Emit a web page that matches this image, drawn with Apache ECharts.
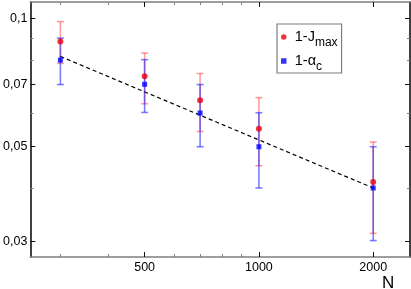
<!DOCTYPE html>
<html>
<head>
<meta charset="utf-8">
<script src="https://cdn.jsdelivr.net/npm/echarts@6/dist/echarts.min.js"></script>
<style>html,body{margin:0;padding:0;background:#fff}#c{width:411px;height:289px}</style>
</head>
<body>
<div id="c"></div>
<script>
// ---- data ----
const nValues   = [300, 500, 700, 1000, 2000];
const jMax      = [0.0883, 0.0732, 0.0643, 0.0551, 0.0413];
const jMaxLow   = [0.0785, 0.0631, 0.0543, 0.0451, 0.0313];
const jMaxHigh  = [0.0984, 0.0830, 0.0743, 0.0652, 0.0513];
const alphaC    = [0.0799, 0.0701, 0.0600, 0.0500, 0.0400];
const alphaLow  = [0.0700, 0.0602, 0.0500, 0.0400, 0.0301];
const alphaHigh = [0.0900, 0.0801, 0.0700, 0.0601, 0.0500];
const fitN      = [300, 2000];
const fitY      = [0.0815, 0.0400];

const xMajorTicks  = [500, 1000, 2000];
const xMajorLabels = ['500', '1000', '2000'];
const xMinorTicks  = [300, 400, 600, 700, 800, 900];
const yMajorTicks  = [0.03, 0.05, 0.07, 0.1];
const yMajorLabels = ['0,03', '0,05', '0,07', '0,1'];
const yMinorTicks  = [0.04, 0.06, 0.08, 0.09];
const xRange = [250, 2500];
const yRange = [0.02754, 0.1094];

const lg = Math.log10;
function nearestLabel(v, ticks, labels) {
  let best = 0, bd = Infinity;
  ticks.forEach((t, i) => { const d = Math.abs(lg(t) - v); if (d < bd) { bd = d; best = i; } });
  return bd < 1e-6 ? labels[best] : '';
}

const dark = '#111', grey = '#7f7f7f';
function xAx(pos, ticks, len, color, labels, showLine) {
  return {
    type: 'value', position: pos, min: lg(xRange[0]), max: lg(xRange[1]),
    splitLine: { show: false },
    axisLine: { show: showLine, onZero: false, lineStyle: { color: grey, width: 1.6 } },
    axisTick: { show: true, inside: true, length: len, customValues: ticks.map(lg), lineStyle: { color: color, width: 1 } },
    axisLabel: labels ? {
      show: true, customValues: xMajorTicks.map(lg), margin: 4,
      fontFamily: 'Liberation Sans', fontSize: 12.5, color: '#000',
      formatter: v => nearestLabel(v, xMajorTicks, xMajorLabels)
    } : { show: false }
  };
}
function yAx(pos, ticks, len, color, labels, showLine) {
  return {
    type: 'value', position: pos, min: lg(yRange[0]), max: lg(yRange[1]),
    splitLine: { show: false },
    axisLine: { show: showLine, onZero: false, lineStyle: { color: dark, width: 1.6 } },
    axisTick: { show: true, inside: true, length: len, customValues: ticks.map(lg), lineStyle: { color: color, width: 1 } },
    axisLabel: labels ? {
      show: true, customValues: yMajorTicks.map(lg), margin: 3,
      fontFamily: 'Liberation Sans', fontSize: 12.5, color: '#000',
      formatter: v => nearestLabel(v, yMajorTicks, yMajorLabels)
    } : { show: false }
  };
}

function errSeries(name, lo, hi, color) {
  return {
    name: name, type: 'custom', xAxisIndex: 0, yAxisIndex: 0, z: 2,
    data: nValues.map((n, i) => [lg(n), lg(lo[i]), lg(hi[i])]),
    renderItem: function (params, api) {
      const x = api.value(0);
      const a = api.coord([x, api.value(1)]);
      const b = api.coord([x, api.value(2)]);
      const w = 3.5;
      const st = { stroke: color, lineWidth: 1.6 };
      return { type: 'group', children: [
        { type: 'line', shape: { x1: a[0], y1: a[1], x2: b[0], y2: b[1] }, style: st },
        { type: 'line', shape: { x1: a[0] - w, y1: a[1], x2: a[0] + w, y2: a[1] }, style: st },
        { type: 'line', shape: { x1: b[0] - w, y1: b[1], x2: b[0] + w, y2: b[1] }, style: st }
      ]};
    }
  };
}

const chart = echarts.init(document.getElementById('c'), null, { renderer: 'canvas' });
chart.setOption({
  animation: false,
  backgroundColor: '#fff',
  grid: { left: 28, right: 1, top: 2, bottom: 32, containLabel: false },
  title: { text: 'N', left: 377, top: 270, textStyle: { fontFamily: 'Liberation Sans', fontSize: 17, fontWeight: 'normal', color: '#000' } },
  xAxis: [
    xAx('bottom', xMajorTicks, 5, dark, true, true),
    xAx('bottom', xMinorTicks, 3, grey, false, false),
    xAx('top', xMajorTicks, 5, dark, false, true),
    xAx('top', xMinorTicks, 3, grey, false, false)
  ],
  yAxis: [
    yAx('left', yMajorTicks, 5, dark, true, true),
    yAx('left', yMinorTicks, 3, grey, false, false),
    yAx('right', yMajorTicks, 5, dark, false, true),
    yAx('right', yMinorTicks, 3, grey, false, false)
  ],
  legend: {
    left: 277, top: 24, orient: 'vertical',
    data: [{ name: '1-Jmax', icon: 'circle' }, { name: '1-αc', icon: 'path://M0,0L10,0L10,10L0,10Z' }],
    itemWidth: 12, itemHeight: 5.5, itemGap: 0, symbolKeepAspect: true,
    padding: [1, 4, 0, 4],
    borderColor: grey, borderWidth: 1.2, borderRadius: 0,
    formatter: name => name === '1-Jmax' ? '{m|1-J}{s|max}' : '{m|1-α}{s|c}',
    textStyle: {
      color: '#000',
      rich: {
        m: { fontFamily: 'Liberation Sans', fontSize: 14.5, color: '#000' },
        s: { fontFamily: 'Liberation Sans', fontSize: 12, lineHeight: 11, padding: [12, 0, 0, 0], color: '#000' }
      }
    }
  },
  series: [
    errSeries('errJ', jMaxLow, jMaxHigh, 'rgba(255,60,60,0.5)'),
    errSeries('errA', alphaLow, alphaHigh, 'rgba(40,40,255,0.6)'),
    {
      name: 'fit', type: 'line', xAxisIndex: 0, yAxisIndex: 0, z: 3,
      data: fitN.map((n, i) => [lg(n), lg(fitY[i])]),
      symbol: 'none', silent: true,
      lineStyle: { color: '#000', width: 1.2, type: [4, 3] }
    },
    {
      name: '1-Jmax', type: 'scatter', xAxisIndex: 0, yAxisIndex: 0, z: 4,
      symbol: 'circle', symbolSize: 6,
      itemStyle: { color: '#e8000e' },
      data: nValues.map((n, i) => [lg(n), lg(jMax[i])])
    },
    {
      name: '1-αc', type: 'scatter', xAxisIndex: 0, yAxisIndex: 0, z: 5,
      symbol: 'rect', symbolSize: 5,
      itemStyle: { color: '#0000ff' },
      data: nValues.map((n, i) => [lg(n), lg(alphaC[i])])
    }
  ]
});
</script>
</body>
</html>
